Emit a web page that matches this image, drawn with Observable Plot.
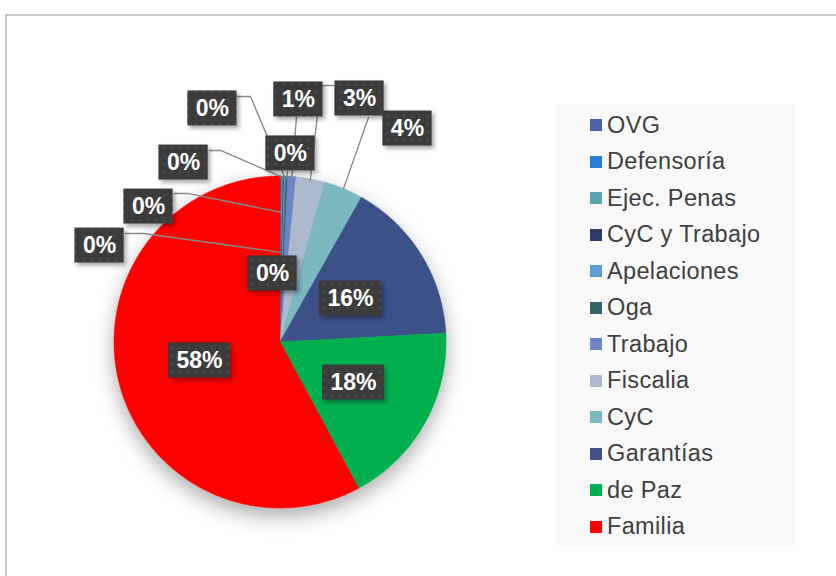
<!DOCTYPE html>
<html><head><meta charset="utf-8">
<script src="https://cdn.jsdelivr.net/npm/d3@7"></script>
<script src="https://cdn.jsdelivr.net/npm/@observablehq/plot@0.6"></script>
<style>
html,body{margin:0;padding:0;background:#fff;overflow:hidden;}
#wrap{position:relative;width:836px;height:576px;overflow:hidden;font-family:"Liberation Sans",Arial,sans-serif;}
#chart{position:absolute;left:0;top:0;}
#frame{position:absolute;left:5px;top:14px;width:900px;height:700px;border-top:2px solid #c8c8c8;border-left:2px solid #c8c8c8;pointer-events:none;}
#legendbox{position:absolute;left:556px;top:104px;width:239px;height:441px;background:#f8f8f8;}
#legendbox .lg-swatches{margin:0 !important;padding:3px 0 0 34px !important;font:23.5px "Liberation Sans",Arial,sans-serif !important;letter-spacing:0.35px;color:#404040 !important;min-height:0 !important;}
#legendbox .lg-swatch{height:36.5px !important;margin:0 !important;padding:0 !important;display:flex !important;align-items:center !important;}
#legendbox .lg-swatch svg{margin-right:5px !important;}
</style></head><body>
<div id="wrap"><div id="chart"></div><div id="legendbox"></div><div id="frame"></div></div>
<script>
// ---- data ----
const categories = ["OVG","Defensoría","Ejec. Penas","CyC y Trabajo","Apelaciones","Oga","Trabajo","Fiscalia","CyC","Garantías","de Paz","Familia"];
const shares = [0.1,0.1,0.1,0.1,0.15,0.2,0.8,2.8,3.8,16.0,18.0,57.85];
const colors = ["#4a62a8","#2a7fd4","#5ba3ad","#2b3a67","#609ed6","#336466","#6d85c5","#adb9cc","#7bb8c0","#3e5189","#00b050","#ff0000"];

// ---- layout (pie units: radius = 1, centre = 0,0) ----
const cx = 279.5, cy = 341.5, R = 166;
const labelPos = [[-0.045,0.413],[-1.087,0.581],[-0.792,0.816],[-0.581,1.081],[-0.407,1.407],[0.063,1.136],[0.111,1.461],[0.479,1.467],[0.768,1.286],[0.425,0.262],[0.443,-0.244],[-0.485,-0.111]];
const leaderStart = [null,[[-0.930,0.654],[-0.822,0.654]],[[-0.636,0.895],[-0.557,0.895]],[[-0.425,1.154],[-0.358,1.154]],[[-0.256,1.479],[-0.178,1.479]],[[0.045,1.027]],[[0.099,1.352]],[[0.322,1.545],[0.244,1.545]],[[0.533,1.352]],null,null,null];
const leaderReach = [null,0.54,0.78,0.99,0.99,0.99,0.99,0.99,1.0,null,null,null];

// ---- derived geometry ----
const total = d3.sum(shares);
let acc = 0;
const slices = categories.map((name,i)=>{
  const a0 = acc/total*2*Math.PI; acc += shares[i]; const a1 = acc/total*2*Math.PI;
  return {name, i, a0, a1, value: shares[i]};
});
const piePts = slices.flatMap(s=>{
  const n = Math.max(2, Math.ceil((s.a1-s.a0)/(Math.PI/360)));
  const pts = [{name:s.name,x:0,y:0}];
  for(let k=0;k<=n;k++){const a=s.a0+(s.a1-s.a0)*k/n; pts.push({name:s.name,x:Math.sin(a),y:Math.cos(a)});}
  return pts;
});
const labels = slices.map((s,i)=>({name:s.name, text: Math.round(s.value/total*100)+"%", x:labelPos[i][0], y:labelPos[i][1]}));
const leaders = slices.flatMap((s,i)=>{
  if(!leaderStart[i]) return [];
  const m = (s.a0+s.a1)/2, r = leaderReach[i];
  return [...leaderStart[i].map(p=>({name:s.name,x:p[0],y:p[1]})), {name:s.name,x:r*Math.sin(m),y:r*Math.cos(m)}];
});
const fs = 23;
const boxW = d => (16 + 0.556*fs*(d.text.length-1) + 0.889*fs)/R;
const boxH = 35/R;

const svg = Plot.plot({
  width: 836, height: 576,
  x: {domain:[-1,1], range:[cx-R, cx+R], axis:null},
  y: {domain:[-1,1], range:[cy+R, cy-R], axis:null},
  color: {domain: categories, range: colors},
  style: {background:"transparent"},
  marks: [
    Plot.line(piePts, {x:"x", y:"y", z:"name", fill:"name", stroke:"name", strokeWidth:0.6, curve:"linear-closed"}),
    Plot.line(leaders, {x:"x", y:"y", z:"name", stroke:"#8a8a8a", strokeWidth:1.4}),
    Plot.rect(labels, {x1:d=>d.x-boxW(d)/2, x2:d=>d.x+boxW(d)/2, y1:d=>d.y-boxH/2, y2:d=>d.y+boxH/2, fill:"#3d3d3d"}),
    Plot.text(labels, {x:"x", y:"y", text:"text", fill:"white", fontSize:fs, fontWeight:"bold", fontFamily:"Liberation Sans, Arial, sans-serif"})
  ]
});
const s = d3.select(svg);
const groups = Array.from(svg.children).filter(n=>n.tagName.toLowerCase()==="g");
const defs = s.insert("defs", ":first-child");
const pat = defs.append("pattern").attr("id","dots").attr("width",8).attr("height",8).attr("patternUnits","userSpaceOnUse");
pat.append("rect").attr("width",8).attr("height",8).attr("fill","#3a3a3a");
pat.append("circle").attr("cx",4).attr("cy",4).attr("r",1.6).attr("fill","#474747");
const f1 = defs.append("filter").attr("id","pieShadow").attr("x","-30%").attr("y","-30%").attr("width","160%").attr("height","170%");
f1.append("feDropShadow").attr("dx",0).attr("dy",8).attr("stdDeviation",10).attr("flood-color","#000").attr("flood-opacity",0.33);
const f2 = defs.append("filter").attr("id","boxShadow").attr("x","-20%").attr("y","-20%").attr("width","150%").attr("height","160%");
f2.append("feDropShadow").attr("dx",2.5).attr("dy",3).attr("stdDeviation",2).attr("flood-color","#000").attr("flood-opacity",0.35);
if (groups[0]) groups[0].setAttribute("filter","url(#pieShadow)");
if (groups[2]) { groups[2].setAttribute("filter","url(#boxShadow)"); d3.select(groups[2]).selectAll("rect").attr("fill","url(#dots)"); }
document.getElementById("chart").append(svg);

const leg = Plot.legend({color:{type:"ordinal", domain:categories, range:colors}, legend:"swatches", columns:1, swatchSize:12, className:"lg"});
document.getElementById("legendbox").append(leg);
</script>
</body></html>
